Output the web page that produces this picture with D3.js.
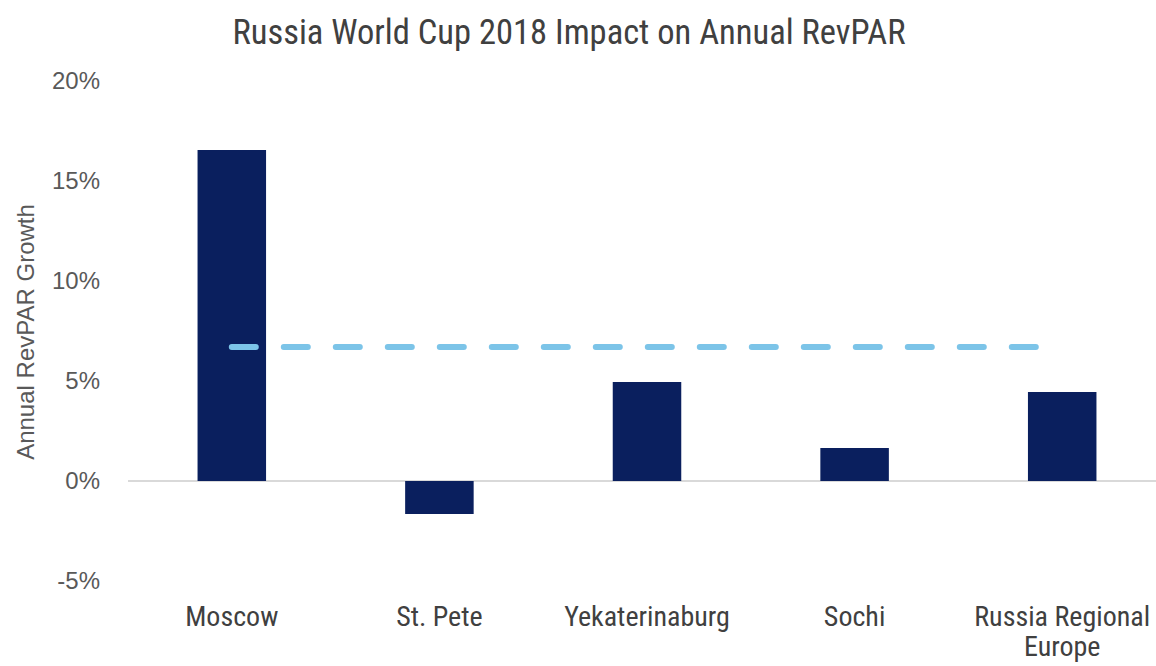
<!DOCTYPE html>
<html>
<head>
<meta charset="utf-8">
<script src="https://cdn.jsdelivr.net/npm/d3@7"></script>
<style>
  body { margin: 0; background: #fff; overflow: hidden; }
  svg { display: block; }
  .narrow { font-family: "Liberation Sans Narrow", "Roboto Condensed", "Arial Narrow", sans-serif; }
  .tick text { font-family: "Liberation Sans", Arial, sans-serif; }
</style>
</head>
<body>
<svg width="1156" height="666"></svg>
<script>
const cities = ['Moscow', 'St. Pete', 'Yekaterinaburg', 'Sochi', 'Russia Regional Europe'];
const revparGrowth = [16.55, -1.65, 4.95, 1.65, 4.45];
const averageGrowth = [6.7, 6.7, 6.7, 6.7, 6.7];
const yTicks = [-5, 0, 5, 10, 15, 20];

const svg = d3.select('svg');
const width = +svg.attr('width');
const height = +svg.attr('height');

const margin = {top: 81, right: -10, bottom: 85, left: 128};
const innerWidth = width - margin.left - margin.right;
const innerHeight = height - margin.top - margin.bottom;

const g = svg.append('g')
	.attr('transform', `translate(${margin.left}, ${margin.top})`);

const xScale = d3.scaleBand()
	.domain(cities)
	.range([0, innerWidth])
	.paddingInner(0.67)
	.paddingOuter(0.335);

const yScale = d3.scaleLinear()
	.domain([-5, 20])
	.range([innerHeight, 0]);

// y axis, labels only
const yAxisG = g.append('g')
	.call(d3.axisLeft(yScale).tickValues(yTicks).tickFormat(d => d + '%').tickSize(0).tickPadding(28));
yAxisG.select('.domain').remove();
yAxisG.selectAll('text')
	.attr('font-size', 24)
	.attr('fill', '#595959');

// zero line
g.append('line')
	.attr('x1', 0)
	.attr('x2', innerWidth)
	.attr('y1', yScale(0))
	.attr('y2', yScale(0))
	.attr('stroke', '#d9d9d9')
	.attr('stroke-width', 2);

// bars
g.selectAll('rect.bar').data(cities)
	.enter().append('rect')
		.attr('class', 'bar')
		.attr('x', d => xScale(d))
		.attr('width', xScale.bandwidth())
		.attr('y', (d, i) => yScale(Math.max(0, revparGrowth[i])))
		.attr('height', (d, i) => Math.abs(yScale(revparGrowth[i]) - yScale(0)))
		.attr('fill', '#0a1f5e');

// dashed average line
const line = d3.line()
	.x((d, i) => xScale(cities[i]) + xScale.bandwidth() / 2)
	.y(d => yScale(d));

g.append('path')
	.datum(averageGrowth)
	.attr('d', line)
	.attr('fill', 'none')
	.attr('stroke', '#7cc4e8')
	.attr('stroke-width', 6)
	.attr('stroke-linecap', 'round')
	.attr('stroke-dasharray', '24 28');

// x labels (wrapped)
const xLabels = g.append('g')
	.attr('class', 'narrow')
	.attr('transform', `translate(0, ${innerHeight})`);

xLabels.selectAll('text').data(cities)
	.enter().append('text')
		.attr('x', d => xScale(d) + xScale.bandwidth() / 2)
		.attr('y', 45)
		.attr('text-anchor', 'middle')
		.attr('font-size', 28)
		.attr('fill', '#404040')
		.each(function(d) {
			const lines = d === 'Russia Regional Europe' ? ['Russia Regional', 'Europe'] : [d];
			const t = d3.select(this);
			lines.forEach((l, i) => {
				t.append('tspan')
					.attr('x', xScale(d) + xScale.bandwidth() / 2)
					.attr('dy', i === 0 ? 0 : 30)
					.text(l);
			});
		});

// y axis title
svg.append('text')
	.attr('transform', `translate(34, ${332}) rotate(-90)`)
	.attr('text-anchor', 'middle')
	.attr('font-family', '"Liberation Sans", Arial, sans-serif')
	.attr('font-size', 24)
	.attr('fill', '#595959')
	.text('Annual RevPAR Growth');

// title
svg.append('text')
	.attr('class', 'narrow')
	.attr('x', 569)
	.attr('y', 44)
	.attr('text-anchor', 'middle')
	.attr('font-size', 34.5)
	.attr('fill', '#404040')
	.text('Russia World Cup 2018 Impact on Annual RevPAR');
</script>
</body>
</html>
